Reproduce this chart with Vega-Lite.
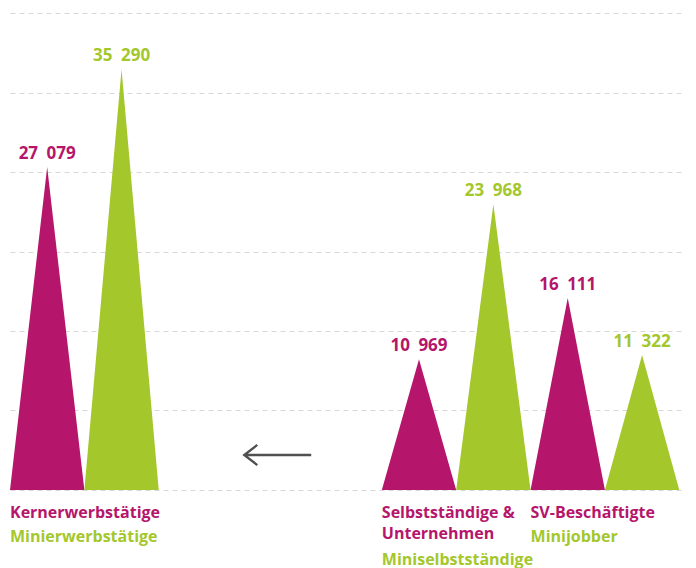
{
  "$schema": "https://vega.github.io/schema/vega-lite/v6.json",
  "padding": {"left": 10, "top": 13, "right": 12, "bottom": 0},
  "background": "white",
  "bounds": "flush",
  "spacing": 28,
  "config": {
    "view": {"stroke": null},
    "font": "Open Sans",
    "locale": {"number": {"decimal": ",", "thousands": "\u2002", "grouping": [3], "currency": ["", " €"]}}
  },
  "datasets": {
    "tri": [
      {"name": "Kernerwerbstätige", "role": "Kern", "vertex": "left", "value": 0},
      {"name": "Kernerwerbstätige", "role": "Kern", "vertex": "peak", "value": 27079},
      {"name": "Kernerwerbstätige", "role": "Kern", "vertex": "right", "value": 0},
      {"name": "Minierwerbstätige", "role": "Mini", "vertex": "left", "value": 0},
      {"name": "Minierwerbstätige", "role": "Mini", "vertex": "peak", "value": 35290},
      {"name": "Minierwerbstätige", "role": "Mini", "vertex": "right", "value": 0},
      {"name": "Selbstständige & Unternehmen", "role": "Kern", "vertex": "left", "value": 0},
      {"name": "Selbstständige & Unternehmen", "role": "Kern", "vertex": "peak", "value": 10969},
      {"name": "Selbstständige & Unternehmen", "role": "Kern", "vertex": "right", "value": 0},
      {"name": "Miniselbstständige", "role": "Mini", "vertex": "left", "value": 0},
      {"name": "Miniselbstständige", "role": "Mini", "vertex": "peak", "value": 23968},
      {"name": "Miniselbstständige", "role": "Mini", "vertex": "right", "value": 0},
      {"name": "SV-Beschäftigte", "role": "Kern", "vertex": "left", "value": 0},
      {"name": "SV-Beschäftigte", "role": "Kern", "vertex": "peak", "value": 16111},
      {"name": "SV-Beschäftigte", "role": "Kern", "vertex": "right", "value": 0},
      {"name": "Minijobber", "role": "Mini", "vertex": "left", "value": 0},
      {"name": "Minijobber", "role": "Mini", "vertex": "peak", "value": 11322},
      {"name": "Minijobber", "role": "Mini", "vertex": "right", "value": 0}
    ],
    "labels": [
      {"group": "Kernerwerbstätige", "role": "Kern", "line": "1", "label": "Kernerwerbstätige"},
      {"group": "Kernerwerbstätige", "role": "Mini", "line": "2", "label": "Minierwerbstätige"},
      {"group": "Selbstständige & Unternehmen", "role": "Kern", "line": "1", "label": "Selbstständige &\nUnternehmen"},
      {"group": "Selbstständige & Unternehmen", "role": "Mini", "line": "3", "label": "Miniselbstständige"},
      {"group": "SV-Beschäftigte", "role": "Kern", "line": "1", "label": "SV-Beschäftigte"},
      {"group": "SV-Beschäftigte", "role": "Mini", "line": "2", "label": "Minijobber"}
    ]
  },
  "vconcat": [
    {
      "width": 673,
      "height": 477,
      "data": {"name": "tri"},
      "layer": [
        {
          "mark": {"type": "area", "opacity": 1},
          "encoding": {
            "x": {"field": "name", "type": "nominal", "bandPosition": 0,
                  "scale": {"type": "band", "domain": ["Kernerwerbstätige", "Minierwerbstätige", "gap-a", "arrow", "gap-b", "Selbstständige & Unternehmen", "Miniselbstständige", "SV-Beschäftigte", "Minijobber"], "paddingInner": 0, "paddingOuter": 0.025, "align": 0},
                  "axis": null},
            "xOffset": {"field": "vertex", "type": "nominal", "scale": {"type": "point", "domain": ["left", "peak", "right"], "padding": 0}},
            "y": {"field": "value", "type": "quantitative", "stack": null,
                  "scale": {"domain": [0, 40000], "nice": false, "zero": true},
                  "axis": {"title": null, "labels": false, "ticks": false, "domain": false, "grid": true,
                           "values": [0, 6666.67, 13333.33, 20000, 26666.67, 33333.33, 40000],
                           "gridColor": "#d8d8d8", "gridDash": [5, 4], "gridWidth": 1}},
            "color": {"field": "role", "type": "nominal", "scale": {"domain": ["Kern", "Mini"], "range": ["#B5166B", "#A4C72C"]}, "legend": null}
          }
        },
        {
          "transform": [{"filter": "datum.vertex === 'peak'"}],
          "mark": {"type": "text", "align": "center", "baseline": "alphabetic", "dy": -8, "fontSize": 17, "fontWeight": "bold"},
          "encoding": {
            "x": {"field": "name", "type": "nominal", "bandPosition": 0},
            "xOffset": {"field": "vertex", "type": "nominal"},
            "y": {"field": "value", "type": "quantitative"},
            "text": {"field": "value", "type": "quantitative", "format": ",d"},
            "color": {"field": "role", "type": "nominal", "legend": null}
          }
        },
        {
          "data": {"values": [{"note": "arrow"}]},
          "mark": {"type": "point", "shape": "M 1 0 L -1 0 M -0.61 -0.3 L -1 0 L -0.61 0.3", "size": 4489, "filled": false, "strokeWidth": 2.3, "color": "#505050", "opacity": 1},
          "encoding": {
            "x": {"datum": "arrow", "type": "nominal", "bandPosition": 0.6},
            "y": {"datum": 2935, "type": "quantitative"}
          }
        }
      ]
    },
    {
      "width": 673,
      "height": 47,
      "data": {"name": "labels"},
      "mark": {"type": "text", "align": "left", "baseline": "alphabetic", "fontSize": 16, "fontWeight": "bold", "lineBreak": "\n", "lineHeight": 21},
      "encoding": {
        "x": {"field": "group", "type": "nominal", "bandPosition": 0,
              "scale": {"type": "band", "domain": ["Kernerwerbstätige", "Minierwerbstätige", "gap-a", "arrow", "gap-b", "Selbstständige & Unternehmen", "Miniselbstständige", "SV-Beschäftigte", "Minijobber"], "paddingInner": 0, "paddingOuter": 0.025, "align": 0},
              "axis": null},
        "y": {"field": "line", "type": "ordinal", "scale": {"type": "point", "domain": ["1", "2", "3"], "padding": 0}, "axis": null},
        "text": {"field": "label"},
        "color": {"field": "role", "type": "nominal", "legend": null}
      }
    }
  ]
}
